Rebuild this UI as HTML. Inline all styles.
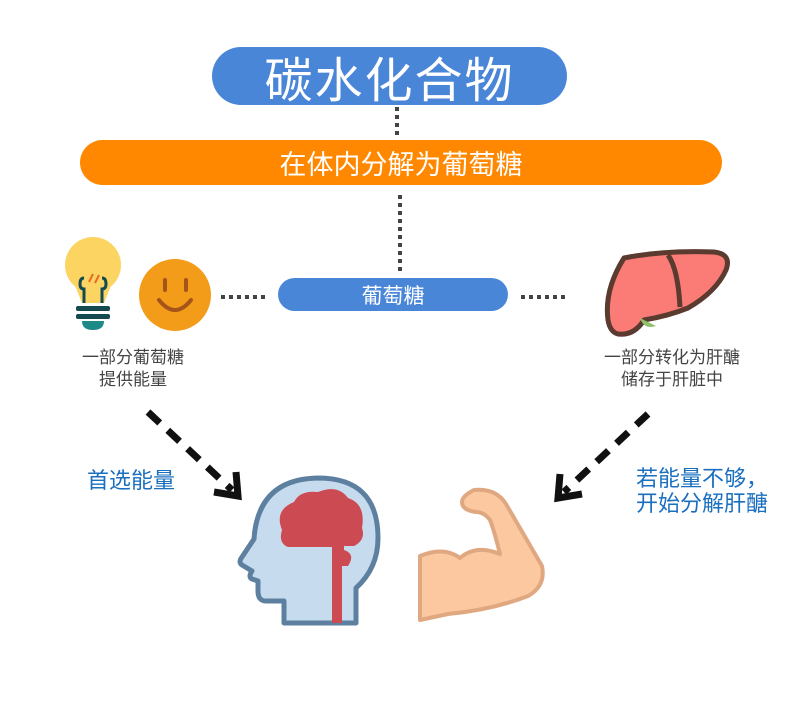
<!DOCTYPE html>
<html><head><meta charset="utf-8"><style>
body{margin:0;width:800px;height:707px;background:#fff;position:relative;overflow:hidden;font-family:"Liberation Sans","Noto Sans CJK SC",sans-serif}
.p{position:absolute;display:flex;align-items:center;justify-content:center;color:#fff;border-radius:999px}
.t{position:absolute;text-align:center;color:#444;font-size:17px;line-height:22px}
.b{position:absolute;color:#1a6fbf;font-size:22px;line-height:25px}
</style></head><body>
<div class="p" style="left:212px;top:47px;width:355px;height:58px;background:#4a86d8;font-size:48px;letter-spacing:2px">碳水化合物</div>
<div class="p" style="left:80px;top:140px;width:642px;height:45px;background:#ff8800;font-size:27px">在体内分解为葡萄糖</div>
<div class="p" style="left:278px;top:278px;width:230px;height:33px;background:#4a86d8;font-size:21px">葡萄糖</div>
<svg style="position:absolute;left:0;top:0" width="800" height="707">
<g stroke="#444" stroke-width="4" stroke-dasharray="4 4" fill="none">
<line x1="397" y1="107" x2="397" y2="138"/>
<line x1="400" y1="195" x2="400" y2="272"/>
<line x1="221" y1="297" x2="268" y2="297"/>
<line x1="521" y1="297" x2="566" y2="297"/>
</g>
<g stroke="#111" stroke-width="7" stroke-dasharray="16 11" fill="none">
<line x1="148" y1="412" x2="232" y2="490"/>
<line x1="648" y1="414" x2="564" y2="492"/>
</g>
<g stroke="#111" stroke-width="7" fill="none" stroke-linejoin="miter">
<polyline points="214,492 238,496 236,472"/>
<polyline points="582,494 558,498 560,474"/>
</g>
<!-- bulb -->
<circle cx="93" cy="265" r="28" fill="#fcd462"/>
<path d="M74,283 L82,303 L104,303 L112,283Z" fill="#fcd462"/>
<path d="M84,278 q-4,0 -4,6 q0,5 4,5 L84,303 M102,303 L102,289 q4,0 4,-5 q0,-6 -4,-6" stroke="#144a50" stroke-width="3" fill="none"/>
<path d="M89,282 l4,-8 M95,283 l4,-8" stroke="#e56a2a" stroke-width="2"/>
<rect x="76" y="306" width="34" height="5" rx="2" fill="#144a50"/>
<rect x="76" y="314" width="34" height="5" rx="2" fill="#144a50"/>
<path d="M82,321 h22 q0,9 -11,9 q-11,0 -11,-9Z" fill="#1e8a88"/>
<!-- smiley -->
<circle cx="175" cy="295" r="36" fill="#f39c19"/>
<path d="M165,280 v10 M186,280 v10" stroke="#a5541a" stroke-width="4" stroke-linecap="round"/>
<path d="M159,300 q16,20 32,0" stroke="#a5541a" stroke-width="4" fill="none" stroke-linecap="round"/>
<!-- liver -->
<path d="M624,258 q40,-8 90,-6 q18,2 12,18 q-10,22 -38,38 q-20,8 -44,12 q-10,16 -26,14 q-8,-2 -10,-14 q-4,-30 16,-62Z" fill="#fb7b76" stroke="#5b3a30" stroke-width="5" stroke-linejoin="round"/>
<path d="M668,255 q10,14 12,52" stroke="#5b3a30" stroke-width="5" fill="none"/>
<path d="M640,318 q4,12 16,8" fill="#8fc06a"/>
<!-- head -->
<path d="M318,478 q60,0 60,60 q0,30 -22,50 l0,35 l-72,0 l0,-22 l-18,0 q-8,0 -8,-10 l0,-10 l-6,-2 q-4,-2 0,-8 l-10,-6 q-4,-3 0,-8 l12,-18 q4,-60 64,-61Z" fill="#c7dbee" stroke="#5e80a0" stroke-width="5" stroke-linejoin="round"/>
<path d="M282,530 q-8,-20 12,-28 q6,-12 24,-10 q20,-8 30,6 q18,6 14,30 q4,12 -8,18 l-10,0 l0,4 q12,4 4,16 l-6,0 l0,57 l-10,0 l0,-76 l-44,0 q-10,-4 -6,-17Z" fill="#cc4a52"/>
<!-- arm -->
<path d="M420,556 q24,-10 40,2 q16,-14 40,-4 q-6,-24 -10,-34 q-6,-8 -14,-8 q-14,-2 -14,-10 q0,-6 12,-12 q22,-2 32,14 l36,62 q4,20 -14,30 q-36,14 -80,18 l-28,6Z" fill="#fbc8a0" stroke="#e0a880" stroke-width="4" stroke-linejoin="round"/>
</svg>
<div class="t" style="left:58px;top:347px;width:150px">一部分葡萄糖<br>提供能量</div>
<div class="t" style="left:592px;top:347px;width:160px">一部分转化为肝醣<br>储存于肝脏中</div>
<div class="b" style="left:87px;top:468px">首选能量</div>
<div class="b" style="left:636px;top:466px">若能量不够，<br>开始分解肝醣</div>
</body></html>
